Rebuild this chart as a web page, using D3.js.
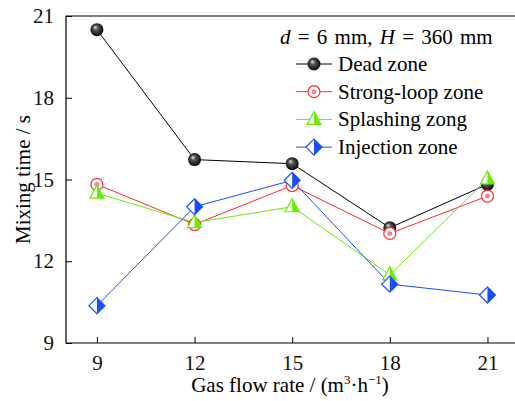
<!DOCTYPE html>
<html>
<head>
<meta charset="utf-8">
<script src="https://cdn.jsdelivr.net/npm/d3@7"></script>
<style>
  body { margin: 0; background: #fff; }
  svg text { font-family: "Liberation Serif", "Times New Roman", serif; }
</style>
</head>
<body>
<div id="chart"></div>
<script>
// gas flow rate categories (m3/h)
const flowRates = [9, 12, 15, 18, 21];
// mixing time (s) for each zone
const deadZone = [20.5, 15.73, 15.58, 13.23, 14.82];
const strongLoopZone = [14.82, 13.35, 14.78, 13.02, 14.39];
const splashingZone = [14.5, 13.42, 14.0, 11.5, 15.02];
const injectionZone = [10.37, 14.0, 14.97, 11.16, 10.76];
const xTicks = [9, 12, 15, 18, 21];
const yTicks = [9, 12, 15, 18, 21];

const series = [
  {name: 'Dead zone', values: deadZone, color: '#000000', marker: 'sphere'},
  {name: 'Strong-loop zone', values: strongLoopZone, color: '#ff2a2a', marker: 'circle'},
  {name: 'Splashing zong', values: splashingZone, color: '#66ee00', marker: 'triangle'},
  {name: 'Injection zone', values: injectionZone, color: '#1a4dff', marker: 'diamond'}
];

const width = 515, height = 401;
const margin = {top: 16, right: -5, bottom: 58, left: 66};

const svg = d3.select('#chart').append('svg')
  .attr('width', width)
  .attr('height', height);

const defs = svg.append('defs');
const grad = defs.append('radialGradient')
  .attr('id', 'ball')
  .attr('cx', '50%').attr('cy', '50%').attr('r', '55%')
  .attr('fx', '35%').attr('fy', '30%');
grad.append('stop').attr('offset', '0%').attr('stop-color', '#e8e8e8');
grad.append('stop').attr('offset', '35%').attr('stop-color', '#555');
grad.append('stop').attr('offset', '100%').attr('stop-color', '#000');

const x = d3.scaleLinear()
  .domain([8.05, 22])
  .range([margin.left, width - margin.right]);

const y = d3.scaleLinear()
  .domain([9, 21])
  .range([height - margin.bottom, margin.top]);

// frame (right side falls outside the picture)
svg.append('path')
  .attr('d', `M${width + 10},${y(21)}H${x(8.05)}V${y(9)}H${width + 10}`)
  .attr('fill', 'none')
  .attr('stroke', '#000')
  .attr('stroke-width', 1.2);

// x axis, ticks pointing inward
const xAxis = svg.append('g')
  .attr('transform', `translate(0,${y(9)})`)
  .call(d3.axisBottom(x).tickValues(xTicks).tickSizeInner(-6).tickSizeOuter(0).tickPadding(12));
xAxis.attr('font-family', null).attr('font-size', 21);
xAxis.select('.domain').remove();
xAxis.selectAll('text').attr('fill', '#111');

const yAxis = svg.append('g')
  .attr('transform', `translate(${x(8.05)},0)`)
  .call(d3.axisLeft(y).tickValues(yTicks).tickSizeInner(-6).tickSizeOuter(0).tickPadding(12));
yAxis.attr('font-family', null).attr('font-size', 21);
yAxis.select('.domain').remove();
yAxis.selectAll('text').attr('fill', '#111');

// axis titles
svg.append('text')
  .attr('x', 290).attr('y', 392)
  .attr('text-anchor', 'middle')
  .attr('font-size', 21)
  .html('Gas flow rate / (m<tspan dy="-8" font-size="13">3</tspan><tspan dy="8">·h</tspan><tspan dy="-8" font-size="13">−1</tspan><tspan dy="8">)</tspan>');

svg.append('text')
  .attr('transform', `translate(30,${(y(9) + y(21)) / 2}) rotate(-90)`)
  .attr('text-anchor', 'middle')
  .attr('font-size', 21)
  .text('Mixing time / s');

function drawMarker(g, type, color) {
  if (type === 'sphere') {
    g.append('circle').attr('r', 6.5).attr('fill', 'url(#ball)');
  } else if (type === 'circle') {
    g.append('circle').attr('r', 6).attr('fill', '#fff').attr('stroke', color).attr('stroke-width', 1.2);
    g.append('circle').attr('r', 2).attr('fill', '#ff88bb').attr('stroke', '#ff3377').attr('stroke-width', 0.6);
  } else if (type === 'triangle') {
    g.append('path').attr('d', 'M0,-8L7,5H-7Z').attr('fill', '#fff').attr('stroke', color).attr('stroke-width', 1.2);
    g.append('path').attr('d', 'M0,-8L7,5H0Z').attr('fill', color);
  } else if (type === 'diamond') {
    g.append('path').attr('d', 'M0,-8L8,0L0,8L-8,0Z').attr('fill', '#fff').attr('stroke', color).attr('stroke-width', 1.2);
    g.append('path').attr('d', 'M0,-8L8,0L0,8Z').attr('fill', color);
  }
}

const line = d3.line()
  .x((d, i) => x(flowRates[i]))
  .y(d => y(d));

series.forEach(s => {
  svg.append('path')
    .datum(s.values)
    .attr('fill', 'none')
    .attr('stroke', s.color)
    .attr('stroke-width', 1)
    .attr('d', line);
});

series.forEach(s => {
  s.values.forEach((v, i) => {
    const g = svg.append('g').attr('transform', `translate(${x(flowRates[i])},${y(v)})`);
    drawMarker(g, s.marker, s.color);
  });
});

// legend
const legend = svg.append('g').attr('transform', 'translate(296,0)');
legend.append('text')
  .attr('x', -16).attr('y', 44)
  .attr('font-size', 21)
  .attr('word-spacing', 2)
  .html('<tspan font-style="italic">d</tspan> = 6 mm, <tspan font-style="italic">H</tspan> = 360 mm');

series.forEach((s, i) => {
  const ly = 64 + i * 27.7;
  const row = legend.append('g').attr('transform', `translate(0,${ly})`);
  row.append('line').attr('x1', 0).attr('x2', 36).attr('stroke', s.color).attr('stroke-width', 1);
  drawMarker(row.append('g').attr('transform', 'translate(18,0)'), s.marker, s.color);
  row.append('text').attr('x', 42).attr('y', 7).attr('font-size', 21).text(s.name);
});
</script>
</body>
</html>
